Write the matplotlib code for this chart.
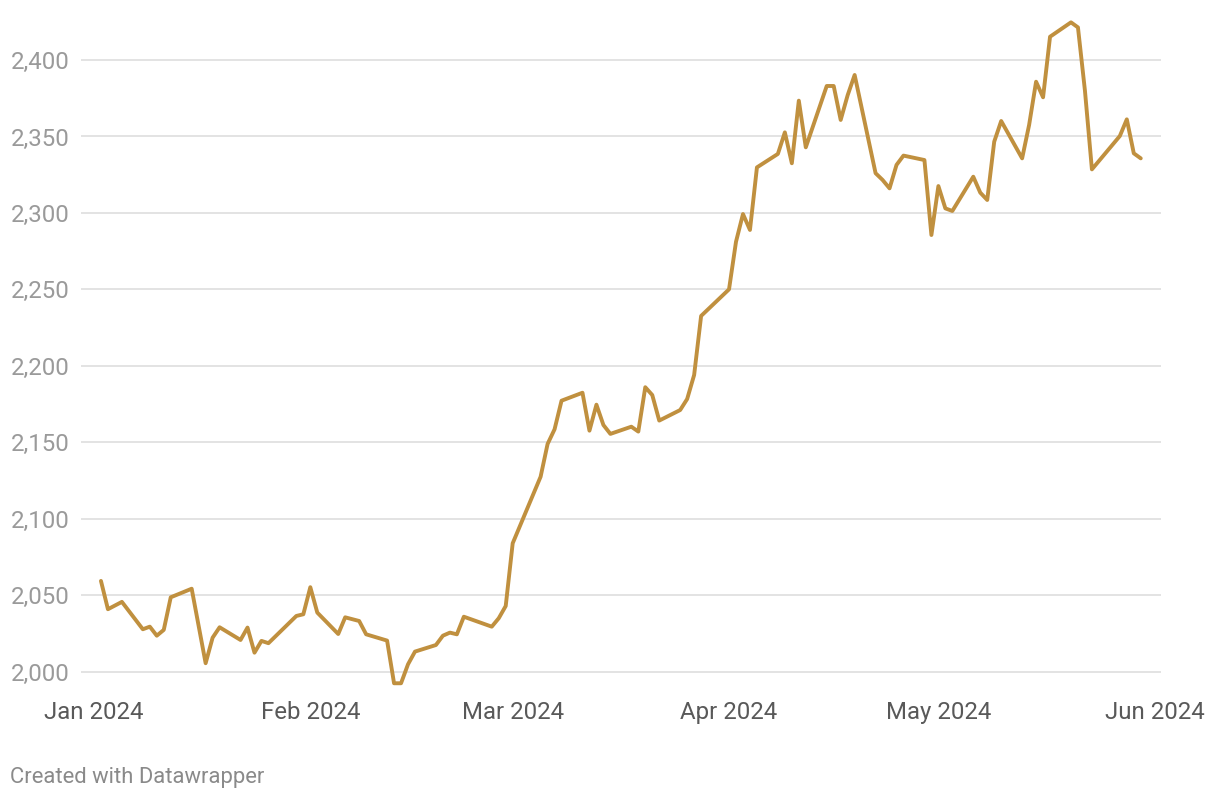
import pandas as pd
import matplotlib
matplotlib.use('Agg')
import matplotlib.pyplot as plt
import matplotlib.dates as mdates
from matplotlib.ticker import FuncFormatter

# gold price
dates = [
    '2024-01-02', '2024-01-03', '2024-01-05', '2024-01-08', '2024-01-09', '2024-01-10',
    '2024-01-11', '2024-01-12', '2024-01-15', '2024-01-17', '2024-01-18', '2024-01-19',
    '2024-01-22', '2024-01-23', '2024-01-24', '2024-01-25', '2024-01-26', '2024-01-30',
    '2024-01-31', '2024-02-01', '2024-02-02', '2024-02-05', '2024-02-06', '2024-02-08',
    '2024-02-09', '2024-02-12', '2024-02-13', '2024-02-14', '2024-02-15', '2024-02-16',
    '2024-02-19', '2024-02-20', '2024-02-21', '2024-02-22', '2024-02-23', '2024-02-27',
    '2024-02-28', '2024-02-29', '2024-03-01', '2024-03-05', '2024-03-06', '2024-03-07',
    '2024-03-08', '2024-03-11', '2024-03-12', '2024-03-13', '2024-03-14', '2024-03-15',
    '2024-03-18', '2024-03-19', '2024-03-20', '2024-03-21', '2024-03-22', '2024-03-25',
    '2024-03-26', '2024-03-27', '2024-03-28', '2024-04-01', '2024-04-02', '2024-04-03',
    '2024-04-04', '2024-04-05', '2024-04-08', '2024-04-09', '2024-04-10', '2024-04-11',
    '2024-04-12', '2024-04-15', '2024-04-16', '2024-04-17', '2024-04-18', '2024-04-19',
    '2024-04-22', '2024-04-23', '2024-04-24', '2024-04-25', '2024-04-26', '2024-04-29',
    '2024-04-30', '2024-05-01', '2024-05-02', '2024-05-03', '2024-05-06', '2024-05-07',
    '2024-05-08', '2024-05-09', '2024-05-10', '2024-05-13', '2024-05-14', '2024-05-15',
    '2024-05-16', '2024-05-17', '2024-05-20', '2024-05-21', '2024-05-22', '2024-05-23',
    '2024-05-27', '2024-05-28', '2024-05-29', '2024-05-30',
]
prices = [
    2059.5, 2041.0, 2045.8, 2027.9, 2029.6, 2023.7,
    2027.5, 2048.8, 2054.4, 2005.7, 2022.4, 2029.2,
    2020.9, 2029.0, 2012.6, 2020.3, 2018.8, 2036.6,
    2037.7, 2055.4, 2038.8, 2024.8, 2035.7, 2033.3,
    2024.6, 2020.5, 1992.6, 1992.6, 2005.0, 2013.3,
    2017.6, 2023.7, 2025.7, 2024.6, 2036.1, 2029.6,
    2035.1, 2043.1, 2084.1, 2127.6, 2149.0, 2158.6,
    2177.3, 2182.5, 2157.7, 2174.7, 2161.4, 2155.6,
    2160.3, 2157.1, 2186.1, 2181.0, 2164.3, 2171.2,
    2178.4, 2194.1, 2232.7, 2250.1, 2281.2, 2299.3,
    2288.9, 2329.8, 2338.6, 2352.7, 2332.5, 2373.4,
    2342.9, 2383.0, 2383.0, 2360.8, 2377.0, 2390.2,
    2326.0, 2321.6, 2316.1, 2331.4, 2337.5, 2334.6,
    2285.6, 2317.6, 2303.0, 2301.3, 2323.7, 2313.3,
    2308.5, 2346.6, 2360.1, 2335.7, 2357.5, 2385.8,
    2375.6, 2415.2, 2424.6, 2421.3, 2380.0, 2328.5,
    2350.3, 2361.2, 2339.0, 2335.7,
]

y_ticks = [2000, 2050, 2100, 2150, 2200, 2250, 2300, 2350, 2400]
x_ticks = ['2024-01-01', '2024-02-01', '2024-03-01', '2024-04-01', '2024-05-01', '2024-06-01']

LINE_COLOR = '#c0903f'

plt.rcParams['font.family'] = ['Roboto', 'DejaVu Sans']

W, H = 1220, 800
fig = plt.figure(figsize=(W / 100, H / 100), dpi=100)
ax = fig.add_axes([81 / W, 1 - 690 / H, (1161 - 81) / W, (690 - 15) / H])

x = pd.to_datetime(dates)
ax.plot(x, prices, color=LINE_COLOR, linewidth=2.8,
        solid_joinstyle='round', solid_capstyle='round', zorder=3)

start = pd.Timestamp('2024-01-01')
ax.set_xlim(start - pd.Timedelta(days=1.86), start + pd.Timedelta(days=152.9))
ax.set_ylim(1988.2, 2429.4)

ax.set_yticks(y_ticks)
ax.yaxis.set_major_formatter(FuncFormatter(lambda v, p: f'{int(v):,}'))
ax.set_xticks(pd.to_datetime(x_ticks))
ax.xaxis.set_major_formatter(mdates.DateFormatter('%b %Y'))

ax.grid(axis='y', color='#e3e3e3', linewidth=1.4, zorder=0)
ax.grid(axis='x', visible=False)
for s in ax.spines.values():
    s.set_visible(False)

ax.tick_params(axis='y', length=0, pad=8, labelsize=17.3, labelcolor='#9a9a9a')
ax.tick_params(axis='x', length=0, pad=8, labelsize=17.3, labelcolor='#595959')

fig.text(10 / W, 1 - 778 / H, 'Created with Datawrapper', fontsize=15.8,
         color='#8a8a8a', ha='left', va='center')

fig.savefig('out.png', dpi=100, facecolor='white')
